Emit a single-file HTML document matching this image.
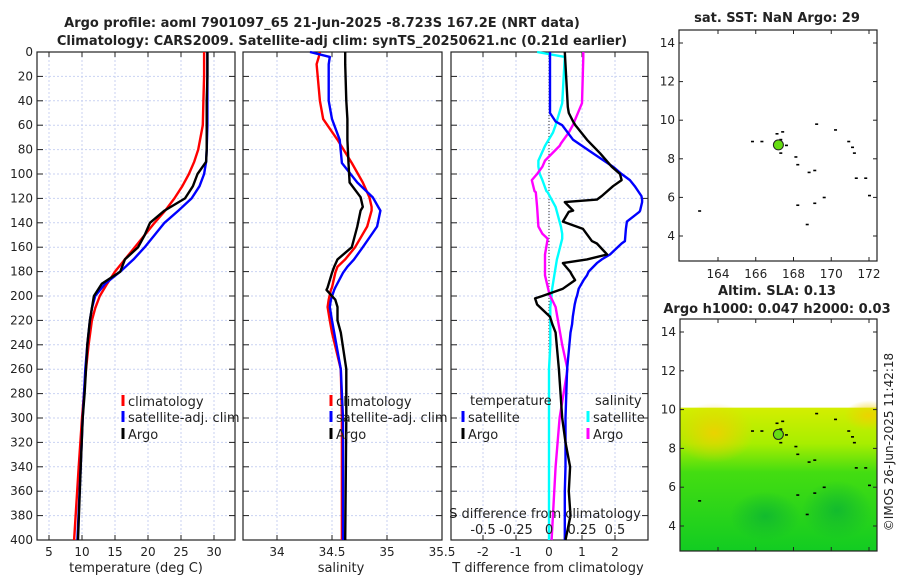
<!DOCTYPE html>
<html><head><meta charset="utf-8">
<style>
body{margin:0;background:#fff;}
svg text{font-family:"DejaVu Sans","Liberation Sans",sans-serif;fill:#222;}
</style></head>
<body>
<svg id="c" width="900" height="580" viewBox="0 0 900 580" xmlns="http://www.w3.org/2000/svg">
<defs>
<linearGradient id="fieldGrad" x1="0" y1="0" x2="0" y2="1">
<stop offset="0" stop-color="#d4ee00"/>
<stop offset="0.25" stop-color="#a8ee00"/>
<stop offset="0.45" stop-color="#44dd11"/>
<stop offset="1" stop-color="#12cc22"/>
</linearGradient>
<radialGradient id="warm" cx="0.5" cy="0.5" r="0.5">
<stop offset="0" stop-color="#f0d000" stop-opacity="0.9"/>
<stop offset="1" stop-color="#f0d000" stop-opacity="0"/>
</radialGradient>
<radialGradient id="cool" cx="0.5" cy="0.5" r="0.5">
<stop offset="0" stop-color="#10b830" stop-opacity="0.9"/>
<stop offset="1" stop-color="#10b830" stop-opacity="0"/>
</radialGradient>
<clipPath id="clipMap2"><rect x="680" y="319" width="197" height="232"/></clipPath>
</defs>
<text x="322" y="27" font-size="13" font-weight="bold" text-anchor="middle">Argo profile: aoml 7901097_65 21-Jun-2025 -8.723S 167.2E (NRT data)</text>
<text x="342" y="45" font-size="13" font-weight="bold" text-anchor="middle">Climatology: CARS2009. Satellite-adj clim: synTS_20250621.nc (0.21d earlier)</text>
<g id="plots"></g>
</svg>
<script>
// ---- data ----
const tempDepth = [0,20,40,60,80,90,100,110,120,130,140,150,160,170,180,190,200,210,220,240,260,280,300,340,400];
const tempClim  = [28.5,28.5,28.4,28.3,27.6,27.0,26.2,25.2,24.0,22.6,21.0,19.5,18.0,16.5,15.0,13.8,12.7,12.0,11.5,11.0,10.6,10.3,10.0,9.5,8.8];
const tempSat   = [29.0,29.0,29.0,29.0,28.9,28.8,28.5,27.8,26.6,24.6,22.5,21.0,19.5,17.8,15.8,13.5,12.0,11.5,11.2,10.8,10.5,10.3,10.1,9.8,9.3];
const tempArgo  = [29.0,29.0,28.9,28.9,28.9,28.8,27.5,26.8,25.6,22.5,20.3,19.5,18.5,16.5,15.8,13.0,11.8,11.5,11.2,10.8,10.6,10.4,10.1,9.8,9.4];

const salDepth  = [0,4,10,40,55,72,91,107,119,127,130,143,160,170,176,181,193,195,203,209,220,230,260,300,400];
const salClim   = [34.39,34.38,34.36,34.39,34.42,34.55,34.68,34.78,34.84,34.86,34.86,34.82,34.71,34.62,34.55,34.53,34.50,34.49,34.47,34.46,34.48,34.50,34.58,34.59,34.59];
const salSat    = [34.30,34.48,34.47,34.47,34.50,34.57,34.59,34.73,34.87,34.92,34.94,34.91,34.78,34.70,34.64,34.60,34.53,34.52,34.49,34.48,34.50,34.52,34.58,34.60,34.60];
const salArgo   = [34.62,34.62,34.62,34.63,34.64,34.64,34.65,34.66,34.76,34.78,34.76,34.73,34.68,34.55,34.52,34.50,34.46,34.45,34.53,34.55,34.55,34.58,34.63,34.63,34.62];

const dTDepth   = [0,45,50,57,60,72,83,94,100,105,110,118,121,123,130,131,139,145,155,157,166,170,173,180,183,187,194,200,202,207,217,223,230,260,300,320,340,360,380,400];
const dTSat     = [0.03,0.03,0.03,0.2,0.4,0.73,1.33,1.94,2.2,2.45,2.6,2.8,2.82,2.82,2.76,2.74,2.36,2.33,2.3,2.2,1.85,1.6,1.45,1.2,1.15,1.05,0.9,0.85,0.82,0.78,0.72,0.7,0.65,0.55,0.5,0.5,0.5,0.48,0.48,0.48];
const dTArgo    = [0.48,0.57,0.6,0.73,0.8,1.15,1.55,1.9,2.15,2.2,1.94,1.6,1.45,0.48,0.73,0.6,0.42,1.03,1.3,1.45,1.76,1.15,0.42,0.64,0.7,0.79,0.42,-0.2,-0.42,-0.36,0.03,0.1,0.2,0.3,0.4,0.5,0.64,0.6,0.65,0.5];

const dSDepth   = [0,4,42,60,66,75,77,89,94,100,105,114,115,127,143,149,153,166,170,183,197,200,209,240,260,300,340,400];
const dSSat     = [-0.09,0.12,0.1,0.05,0.03,-0.02,-0.03,-0.08,-0.08,-0.07,-0.05,-0.02,-0.01,0.05,0.09,0.1,0.1,0.07,0.06,0.04,0.02,0.02,0.01,0.01,0.0,0.0,0.0,0.0];
const dSArgo    = [0.26,0.26,0.25,0.18,0.15,0.09,0.08,-0.03,-0.05,-0.09,-0.13,-0.11,-0.1,-0.09,-0.08,-0.05,-0.01,-0.03,-0.03,-0.03,0.0,0.01,0.05,0.1,0.14,0.08,0.05,0.02];

const depthTicks = [0,20,40,60,80,100,120,140,160,180,200,220,240,260,280,300,320,340,360,380,400];
const tTicks = [5,10,15,20,25,30];
const sTicks = [34,34.5,35,35.5];
const dTTicks = [-2,-1,0,1,2];
const dSTicks = [-0.5,-0.25,0,0.25,0.5];
const dSTickLabels = ['-0.5','-0.25','0','0.25','0.5'];
const latTicks = [4,6,8,10,12,14];
const lonTicks = [164,166,168,170,172];
const argoLon = 167.2, argoLat = 8.72;
const speckLon = [165.8,166.3,167.1,167.3,167.4,167.6,167.3,168.1,168.2,168.8,169.1,169.2,170.2,170.9,171.1,171.2,171.3,171.8,172.0,169.6,168.2,169.1,168.7,163.0];
const speckLat = [8.9,8.9,9.3,9.0,9.4,8.7,8.3,8.1,7.7,7.3,7.4,9.8,9.5,8.9,8.6,8.3,7.0,7.0,6.1,6.0,5.6,5.7,4.6,5.3];

// ---- helpers ----
const NS = 'http://www.w3.org/2000/svg';
const root = document.getElementById('plots');
function mk(tag, attrs, parent){
  const e = document.createElementNS(NS, tag);
  for (const k in attrs) e.setAttribute(k, attrs[k]);
  (parent||root).appendChild(e);
  return e;
}
const Y0 = 52, Y1 = 540;
function yD(d){ return Y0 + d*(Y1-Y0)/400; }
function linF(v0,p0,v1,p1){ return v => p0 + (v-v0)*(p1-p0)/(v1-v0); }

function panel(name, x0, x1, xs, ticks, tickLabels, showYLabels){
  const g = mk('g', {});
  
  
  depthTicks.forEach(d => {
    const l = mk('line', {x1:x0, x2:x1, y1:yD(d), y2:yD(d), stroke:'#c9d2f2', 'stroke-width':1, 'stroke-dasharray':'2,2'}, g);
    
    
  });
  ticks.forEach(t => {
    const l = mk('line', {x1:xs(t), x2:xs(t), y1:Y0, y2:Y1, stroke:'#c9d2f2', 'stroke-width':1, 'stroke-dasharray':'2,2'}, g);
    
    
  });
  depthTicks.forEach(d => {
    mk('line', {x1:x0, x2:x0+6, y1:yD(d), y2:yD(d), stroke:'#222'}, g);
    mk('line', {x1:x1-6, x2:x1, y1:yD(d), y2:yD(d), stroke:'#222'}, g);
    if (showYLabels){
      const t = mk('text', {x:x0-4, y:yD(d)+4, 'font-size':12, 'text-anchor':'end'}, g);
      t.textContent = d;
      
      
    }
  });
  ticks.forEach((tk,i) => {
    mk('line', {x1:xs(tk), x2:xs(tk), y1:Y1-5, y2:Y1, stroke:'#222'}, g);
    mk('line', {x1:xs(tk), x2:xs(tk), y1:Y0, y2:Y0+5, stroke:'#222'}, g);
    const t = mk('text', {x:xs(tk), y:556, 'font-size':12, 'text-anchor':'middle'}, g);
    t.textContent = tickLabels[i];
    
    
  });
  const fr = mk('rect', {x:x0, y:Y0, width:x1-x0, height:Y1-Y0, fill:'none', stroke:'#222', 'stroke-width':1.2}, g);
  
  
  return g;
}
function series(g, name, xs, vals, depths, color){
  const pts = vals.map((v,i) => xs(v).toFixed(1)+','+yD(depths[i]).toFixed(1)).join(' ');
  const p = mk('polyline', {points:pts, fill:'none', stroke:color, 'stroke-width':2.4, 'stroke-linejoin':'round'}, g);
  
  
}
function legend(g, x, y, label, color, name){
  const b = mk('rect', {x:x-1.5, y:y-6, width:3, height:11, fill:color}, g);
  
  
  const t = mk('text', {x:x+5, y:y+5, 'font-size':13}, g);
  t.textContent = label;
  
  
}
function label(txt, x, y, name, size){
  const t = mk('text', {x:x, y:y, 'font-size':size||13, 'text-anchor':'middle'});
  t.textContent = txt;
  
  
}

// ---- panel 1: temperature ----
const xT = linF(5,49,30,214);
const g1 = panel('temperature-panel', 37, 235, xT, tTicks, tTicks.map(String), true);
series(g1, 'temp-climatology-line', xT, tempClim, tempDepth, '#ff0000');
series(g1, 'temp-satellite-line', xT, tempSat, tempDepth, '#0000ff');
series(g1, 'temp-argo-line', xT, tempArgo, tempDepth, '#000000');
legend(g1, 123, 401, 'climatology', '#ff0000', 'legend-climatology');
legend(g1, 123, 417, 'satellite-adj. clim', '#0000ff', 'legend-satellite');
legend(g1, 123, 434, 'Argo', '#000000', 'legend-argo');
label('temperature (deg C)', 136, 572, 'x-axis-title-temperature');

// ---- panel 2: salinity ----
const xS = linF(34,277,35.5,442);
const g2 = panel('salinity-panel', 243, 442, xS, sTicks, ['34','34.5','35','35.5'], false);
series(g2, 'sal-climatology-line', xS, salClim, salDepth, '#ff0000');
series(g2, 'sal-satellite-line', xS, salSat, salDepth, '#0000ff');
series(g2, 'sal-argo-line', xS, salArgo, salDepth, '#000000');
legend(g2, 331, 401, 'climatology', '#ff0000', 'legend-climatology');
legend(g2, 331, 417, 'satellite-adj. clim', '#0000ff', 'legend-satellite');
legend(g2, 331, 434, 'Argo', '#000000', 'legend-argo');
label('salinity', 341, 572, 'x-axis-title-salinity');

// ---- panel 3: differences ----
const xdT = linF(0,549,1,582);
const xdS = linF(0,549,0.25,582);
const g3 = panel('difference-panel', 451, 648, xdT, dTTicks, dTTicks.map(String), false);
const zl = mk('line', {x1:xdT(0), x2:xdT(0), y1:Y0, y2:Y1, stroke:'#333', 'stroke-width':1, 'stroke-dasharray':'1,2'}, g3);


series(g3, 'dS-satellite-line', xdS, dSSat, dSDepth, '#00ffff');
series(g3, 'dS-argo-line', xdS, dSArgo, dSDepth, '#ff00ff');
series(g3, 'dT-satellite-line', xdT, dTSat, dTDepth, '#0000ff');
series(g3, 'dT-argo-line', xdT, dTArgo, dTDepth, '#000000');
(function(){
  const t = mk('text', {x:470, y:405, 'font-size':13}, g3); t.textContent='temperature';
   
  const s = mk('text', {x:595, y:405, 'font-size':13}, g3); s.textContent='salinity';
   
})();
legend(g3, 463, 417, 'satellite', '#0000ff', 'legend-t-satellite');
legend(g3, 463, 434, 'Argo', '#000000', 'legend-t-argo');
legend(g3, 588, 417, 'satellite', '#00ffff', 'legend-s-satellite');
legend(g3, 588, 434, 'Argo', '#ff00ff', 'legend-s-argo');
label('S difference from climatology', 545, 518, 'secondary-axis-title-s-difference');
dSTicks.forEach((v,i) => label(dSTickLabels[i], xdS(v), 534, 'secondary-tick-label'));
label('T difference from climatology', 548, 572, 'x-axis-title-t-difference');

// ---- maps ----
function map(name, x0, x1, yTop, yBot, latTop, latBot, withField){
  const g = mk('g', {});
  
  
  const xL = linF(164,718,172,869);
  const yL = linF(14,latTop,4,latBot);
  if (withField){
    const fg = mk('g', {'clip-path':'url(#clipMap2)'}, g);
    const top = yL(10.1);
    const f = mk('rect', {x:x0, y:top, width:x1-x0, height:yBot-top, fill:'url(#fieldGrad)'}, fg);
    
    
    mk('ellipse', {cx:xL(163.8), cy:yL(8.8), rx:40, ry:30, fill:'url(#warm)'}, fg);
    mk('ellipse', {cx:xL(172), cy:yL(9.7), rx:25, ry:15, fill:'url(#warm)'}, fg);
    mk('ellipse', {cx:xL(170.3), cy:yL(4.8), rx:35, ry:30, fill:'url(#cool)'}, fg);
    mk('ellipse', {cx:xL(166.5), cy:yL(4.5), rx:35, ry:25, fill:'url(#cool)'}, fg);
  }
  latTicks.forEach(l => {
    mk('line', {x1:x0, x2:x0+4, y1:yL(l), y2:yL(l), stroke:'#222'}, g);
    mk('line', {x1:x1-4, x2:x1, y1:yL(l), y2:yL(l), stroke:'#222'}, g);
    const t = mk('text', {x:x0-4, y:yL(l)+4, 'font-size':12, 'text-anchor':'end'}, g);
    t.textContent = l;
    
    
  });
  lonTicks.forEach(l => {
    mk('line', {x1:xL(l), x2:xL(l), y1:yBot-4, y2:yBot, stroke:'#222'}, g);
    mk('line', {x1:xL(l), x2:xL(l), y1:yTop, y2:yTop+4, stroke:'#222'}, g);
    if (!withField){
      const t = mk('text', {x:xL(l), y:yBot+17, 'font-size':12, 'text-anchor':'middle'}, g);
      t.textContent = l;
      
      
    }
  });
  speckLon.forEach((lo,i) => {
    const s = mk('rect', {x:xL(lo)-1, y:yL(speckLat[i])-0.7, width:3, height:1.6, fill:'#000'}, g);
    
    
  });
  const dot = mk('circle', {cx:xL(argoLon), cy:yL(argoLat), r:5, fill:'#66dd11', stroke:'#222', 'stroke-width':1}, g);
  
  
  const fr = mk('rect', {x:x0, y:yTop, width:x1-x0, height:yBot-yTop, fill:'none', stroke:'#222', 'stroke-width':1.2}, g);
  
  
}
map('sst-map', 679, 877, 30, 261, 43, 236, false);
label('sat. SST: NaN Argo: 29', 777, 22, 'sst-map-title', 13);
root.lastChild.setAttribute('font-weight','bold');
map('sla-map', 680, 877, 319, 551, 332, 526, true);
label('Altim. SLA: 0.13', 777, 295, 'sla-map-title-1', 13);
root.lastChild.setAttribute('font-weight','bold');
label('Argo h1000: 0.047 h2000: 0.03', 777, 313, 'sla-map-title-2', 13);
root.lastChild.setAttribute('font-weight','bold');
(function(){
  const t = mk('text', {x:0, y:0, 'font-size':12, 'text-anchor':'middle', transform:'translate(893,442) rotate(-90)'});
  t.textContent = '©IMOS 26-Jun-2025 11:42:18';
  
  
})();
</script>
</body></html>
